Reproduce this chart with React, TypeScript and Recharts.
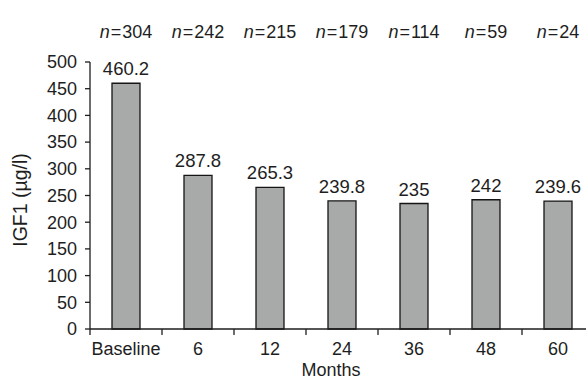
import React from "react";
import { BarChart, Bar, XAxis, YAxis, LabelList } from "recharts";

const months = ["Baseline", "6", "12", "24", "36", "48", "60"];
const igf1 = [460.2, 287.8, 265.3, 239.8, 235, 242, 239.6];
const patients = [304, 242, 215, 179, 114, 59, 24];
const yTicks = [0, 50, 100, 150, 200, 250, 300, 350, 400, 450, 500];

const data = months.map((month, i) => ({
  month,
  value: igf1[i],
  n: patients[i],
}));

const FONT = "'Liberation Sans', Arial, Helvetica, sans-serif";
const INK = "#1e1e1e";
const BAND = 72;

const TopTick = (props: any) => {
  const { x, y, index } = props;
  return (
    <text x={x} y={y - 24} textAnchor="middle" fontSize={18} fill={INK} fontFamily={FONT}>
      <tspan fontStyle="italic">n</tspan>
      <tspan dx={1}>=</tspan>
      <tspan dx={1}>{patients[index]}</tspan>
    </text>
  );
};

const BottomTick = (props: any) => {
  const { x, y, payload } = props;
  return (
    <g>
      <line x1={x - BAND / 2} y1={y} x2={x - BAND / 2} y2={y + 6} stroke={INK} strokeWidth={1.3} />
      <text x={x} y={y + 26} textAnchor="middle" fontSize={18} fill={INK} fontFamily={FONT}>
        {payload.value}
      </text>
    </g>
  );
};

const YLabel = () => (
  <text
    x={27}
    y={200}
    transform="rotate(-90, 27, 200)"
    textAnchor="middle"
    fontSize={19.5}
    fill={INK}
    fontFamily={FONT}
  >
    IGF1 (µg/l)
  </text>
);

const App: React.FC = () => {
  return (
    <div
      style={{
        position: "absolute",
        top: 0,
        left: 0,
        width: 586,
        height: 382,
        overflow: "hidden",
        background: "#fff",
      }}
    >
      <BarChart
        width={600}
        height={382}
        data={data}
        margin={{ top: 0, right: 6, bottom: 0, left: 0 }}
        barCategoryGap={0}
      >
        <XAxis
          xAxisId="top"
          orientation="top"
          dataKey="month"
          height={62}
          axisLine={false}
          tickLine={false}
          tickSize={0}
          tickMargin={0}
          tick={<TopTick />}
          interval={0}
        />
        <XAxis
          dataKey="month"
          height={53}
          axisLine={{ stroke: INK, strokeWidth: 1.3 }}
          tickLine={false}
          tickSize={0}
          tickMargin={0}
          tick={<BottomTick />}
          interval={0}
          label={{
            value: "Months",
            position: "insideBottom",
            offset: 6,
            dx: -11,
            fontSize: 18,
            fill: INK,
            fontFamily: FONT,
          }}
        />
        <YAxis
          width={90}
          domain={[0, 500]}
          ticks={yTicks}
          interval={0}
          tickSize={5}
          tickMargin={8}
          axisLine={{ stroke: INK, strokeWidth: 1.3 }}
          tickLine={{ stroke: INK, strokeWidth: 1.3 }}
          tick={{ fontSize: 18, fill: INK, fontFamily: FONT }}
          label={<YLabel />}
        />
        <Bar
          dataKey="value"
          barSize={28}
          fill="#a8aaa9"
          stroke="#151515"
          strokeWidth={1.3}
          isAnimationActive={false}
        >
          <LabelList
            dataKey="value"
            position="top"
            offset={8}
            fontSize={18.5}
            fill={INK}
            fontFamily={FONT}
          />
        </Bar>
      </BarChart>
    </div>
  );
};

export default App;
